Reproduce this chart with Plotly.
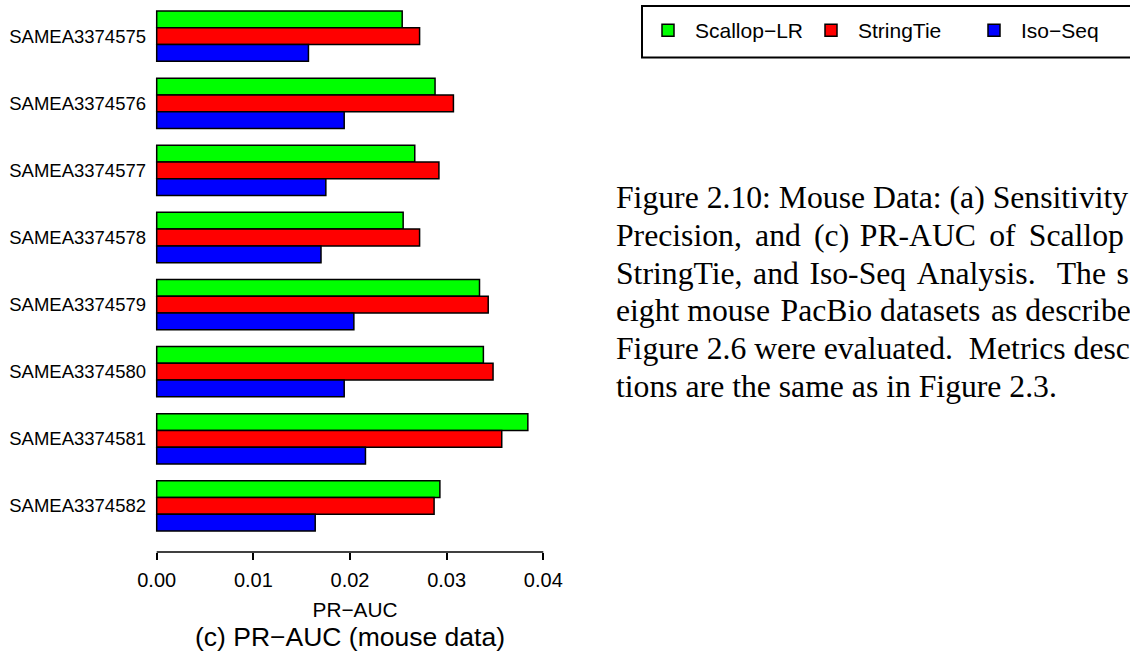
import plotly.graph_objects as go

# PR-AUC per mouse PacBio sample for the three assemblers
samples = ["SAMEA3374575", "SAMEA3374576", "SAMEA3374577", "SAMEA3374578",
           "SAMEA3374579", "SAMEA3374580", "SAMEA3374581", "SAMEA3374582"]
scallop_lr = [0.0254, 0.0288, 0.0267, 0.0255, 0.0334, 0.0338, 0.0384, 0.0293]
stringtie = [0.0272, 0.0307, 0.0292, 0.0272, 0.0343, 0.0348, 0.0357, 0.0287]
iso_seq = [0.0157, 0.0194, 0.0175, 0.0170, 0.0204, 0.0194, 0.0216, 0.0164]

series_names = ["Scallop\u2212LR", "StringTie", "Iso\u2212Seq"]
series_colors = ["#00FF00", "#FF0000", "#0000FF"]
x_ticks = [0.00, 0.01, 0.02, 0.03, 0.04]

# justified caption: each line with the total number of hair spaces spread over its word gaps
caption_lines = [
    ("Figure 2.10: Mouse Data: (a) Sensitivity", 0),
    ("Precision, and (c) PR-AUC of Scallop", 9),
    ("StringTie, and Iso-Seq Analysis.  The s", 6),
    ("eight mouse PacBio datasets as describe", 2),
    ("Figure 2.6 were evaluated.  Metrics desc", 0),
    ("tions are the same as in Figure 2.3.", 0),
]

W, H = 1130, 660
# plot area in pixels
PL, PR, PT, PB = 150, 560, 0, 552
px_per_unit = (543.3 - 156.7) / 0.04
x_lo = (PL - 156.7) / px_per_unit
x_hi = (PR - 156.7) / px_per_unit


def paper_x(px):
    return (px - PL) / (PR - PL)


def paper_y(py):
    return (PB - py) / (PB - PT)


def justify(text, total_extra):
    words = text.split(" ")
    gaps = len(words) - 1
    out = words[0]
    for i in range(gaps):
        k = round((i + 1) * total_extra / gaps) - round(i * total_extra / gaps)
        out += "\u00a0" + "\u200a" * k + words[i + 1]
    return out


sans = "Liberation Sans, Arial, Helvetica, sans-serif"
serif = "Liberation Serif, Times New Roman, serif"

fig = go.Figure()
for name, vals, col in zip(series_names, [scallop_lr, stringtie, iso_seq], series_colors):
    fig.add_trace(go.Bar(
        y=samples, x=vals, name=name, orientation="h",
        marker=dict(color=col, line=dict(color="black", width=1.5)),
    ))

group_step = 67.1
first_center = 36.2
n = len(samples)
y_bottom = (n - 1) + (PB - (first_center + group_step * (n - 1))) / group_step
y_top = -(first_center - PT) / group_step

shapes = [
    # axis line spanning the labelled range only
    dict(type="line", xref="x", yref="paper", x0=x_ticks[0], x1=x_ticks[-1], y0=0, y1=0,
         line=dict(color="black", width=1.5)),
    # legend frame
    dict(type="rect", xref="paper", yref="paper",
         x0=paper_x(642), x1=paper_x(1145), y0=paper_y(57.5), y1=paper_y(6),
         line=dict(color="black", width=2), fillcolor="rgba(0,0,0,0)"),
]

annotations = [
    dict(text="(c) PR\u2212AUC (mouse data)", xref="x", yref="paper", x=0.02, y=0,
         yshift=-(636.7 - PB), xanchor="center", yanchor="middle", showarrow=False,
         font=dict(family=sans, size=26.5, color="black")),
]
for i, (line, extra) in enumerate(caption_lines):
    base = 208.0 + 37.8 * i
    annotations.append(dict(
        text=justify(line, extra), xref="paper", yref="paper", x=paper_x(614),
        y=paper_y(base - 10.5), xanchor="left", yanchor="middle", showarrow=False,
        font=dict(family=serif, size=31.7, color="black"),
    ))

fig.update_layout(
    width=W, height=H,
    margin=dict(l=PL, r=W - PR, t=PT, b=H - PB, pad=0),
    paper_bgcolor="white", plot_bgcolor="white",
    barmode="group", bargap=0.25, bargroupgap=0,
    font=dict(family=sans, color="black"),
    showlegend=True,
    legend=dict(orientation="h", x=paper_x(641), y=paper_y(10), xanchor="left", yanchor="top",
                font=dict(family=sans, size=21, color="black"),
                itemwidth=44, entrywidth=104, entrywidthmode="pixels", traceorder="normal",
                bgcolor="rgba(0,0,0,0)", borderwidth=0),
    xaxis=dict(range=[x_lo, x_hi], tickvals=x_ticks, tickformat=".2f",
               ticks="outside", ticklen=7, tickwidth=1.5, tickcolor="black",
               showline=False, showgrid=False, zeroline=False, ticklabelstandoff=3,
               tickfont=dict(family=sans, size=20, color="black"),
               title=dict(text="PR\u2212AUC", font=dict(family=sans, size=20.8, color="black"),
                          standoff=12)),
    yaxis=dict(range=[y_bottom, y_top], type="category", showgrid=False, zeroline=False,
               showline=False, ticks="", ticklabelstandoff=3,
               tickfont=dict(family=sans, size=18.5, color="black")),
    shapes=shapes, annotations=annotations,
)

fig.write_html("out.html")
